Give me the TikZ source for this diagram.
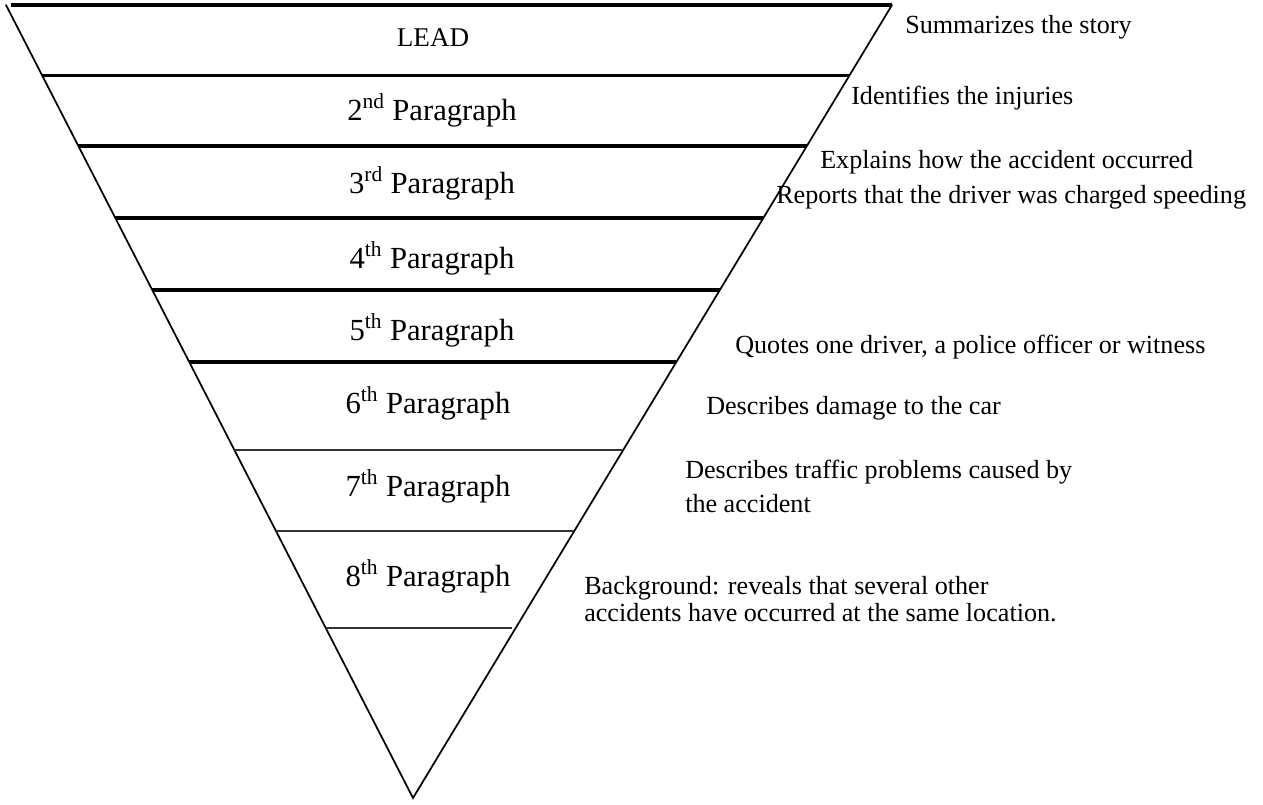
\documentclass[tikz,border=0pt]{standalone}
\usepackage{fontspec}
\setmainfont{Liberation Serif}
\usetikzlibrary{calc}
\begin{document}
\begin{tikzpicture}[x=0.75pt,y=-0.75pt,
  edge/.style={line width=1.3pt, line cap=round},
  thickrule/.style={line width=2.3pt},
  thinrule/.style={line width=1.5pt, black!80},
  level/.style={font=\fontsize{23}{26}\selectfont, inner sep=0pt},
  leadtext/.style={font=\fontsize{20.3}{24}\selectfont, inner sep=0pt},
  note/.style={font=\fontsize{19.6}{24}\selectfont, anchor=west, inner sep=0pt, align=left}]
\useasboundingbox (0,0) rectangle (1263,805);
\coordinate (tl) at (6,5);
\coordinate (tr) at (892,5);
\coordinate (apex) at (413,798);
% triangle edges
\draw[edge] (tl) -- (apex) -- (tr);
% top rule
\draw[thickrule] (11,5) -- (tr);
% horizontal rules
\foreach \t in {0.0895,0.1778,0.2686,0.3594,0.4502}{
  \draw[thickrule] ($(tl)!\t!(apex)$) -- ($(tr)!\t!(apex)$);
}
\foreach \t in {0.5612,0.6633}{
  \draw[thinrule] ($(tl)!\t!(apex)$) -- ($(tr)!\t!(apex)$);
}
\draw[thinrule] ($(tl)!0.7856!(apex)$) -- ($($(tr)!0.7856!(apex)$)+(-4,0)$);
% level labels
\node[leadtext] (lead) at (433,38) {LEAD};
\node[level] (p2) at (432,110) {2\textsuperscript{nd} Paragraph};
\node[level] (p3) at (432,183) {3\textsuperscript{rd} Paragraph};
\node[level] (p4) at (432,258) {4\textsuperscript{th} Paragraph};
\node[level] (p5) at (432,330) {5\textsuperscript{th} Paragraph};
\node[level] (p6) at (428,403) {6\textsuperscript{th} Paragraph};
\node[level] (p7) at (428,486) {7\textsuperscript{th} Paragraph};
\node[level] (p8) at (428,576) {8\textsuperscript{th} Paragraph};
% notes
\node[note] (n1) at (905,27) {Summarizes the story};
\node[note] (n2) at (851,98) {Identifies the injuries};
\node[note] (n3) at (820,162) {Explains how the accident occurred};
\node[note] (n4) at (776,197) {Reports that the driver was charged speeding};
\node[note] (n5) at (735,347) {Quotes one driver, a police officer or witness};
\node[note] (n6) at (706,408) {Describes damage to the car};
\node[note, font=\fontsize{19.6}{25.5}\selectfont] (n7) at (685,486) {Describes traffic problems caused by\\the accident};
\node[note, font=\fontsize{19.6}{20.5}\selectfont] (n8) at (584,599) {Background: reveals that several other\\accidents have occurred at the same location.};
\end{tikzpicture}
\end{document}
